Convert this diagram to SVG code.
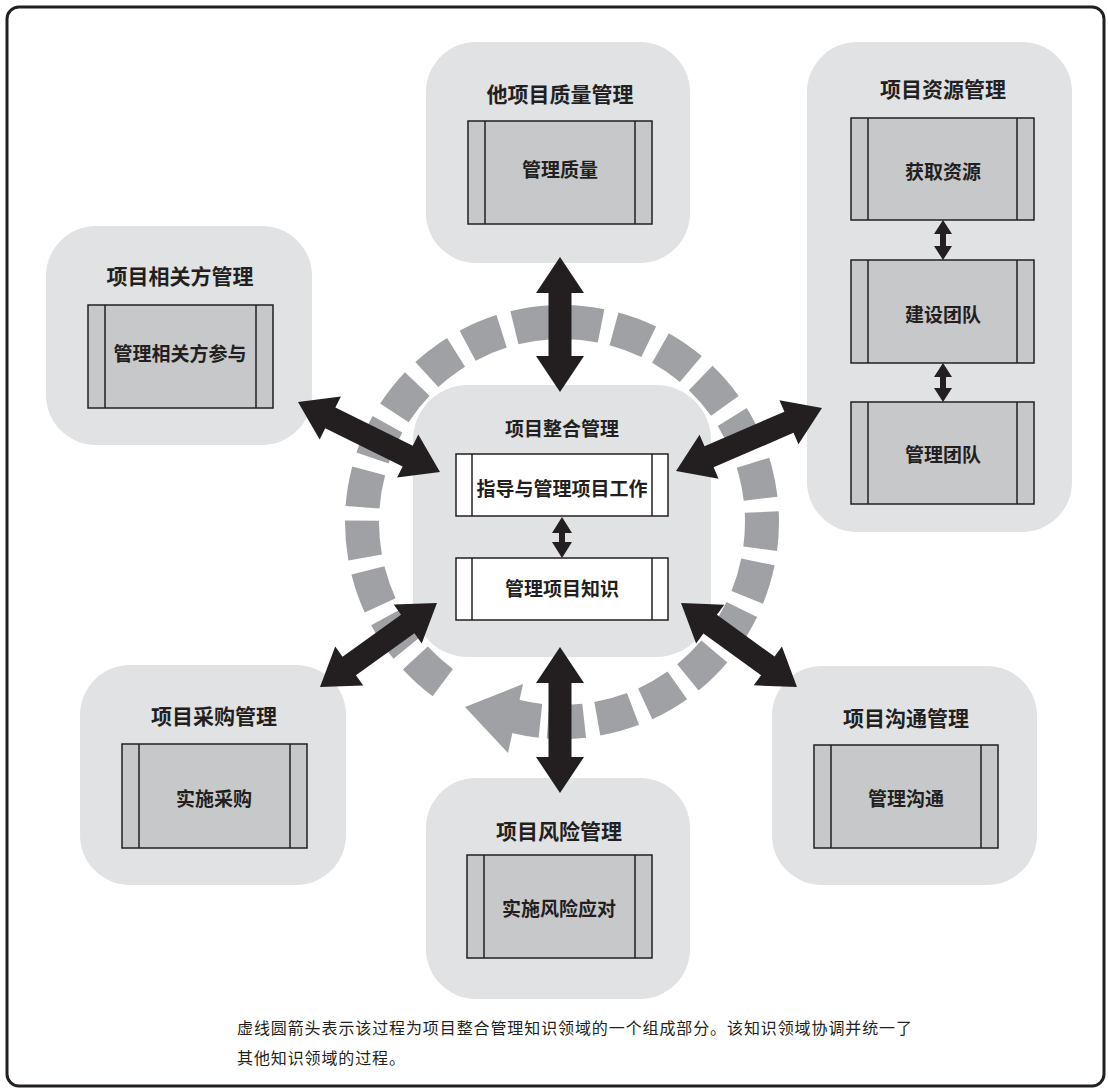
<svg xmlns="http://www.w3.org/2000/svg" width="1108" height="1091" viewBox="0 0 1108 1091">
<style>
.area{fill:#e1e2e4}
.proc{fill:#c7c8ca;stroke:#231f20;stroke-width:1.5}
.procw{fill:#ffffff;stroke:#231f20;stroke-width:1.5}
.bar{stroke:#231f20;stroke-width:1.5}
.t{font-family:"Noto Sans CJK SC","Noto Sans CJK TC",sans-serif;font-weight:700;fill:#231f20;text-anchor:middle;dominant-baseline:central}
.tt{font-size:21px}
.tl{font-size:19px}
.note{font-family:"Noto Sans CJK SC",sans-serif;font-size:16px;fill:#231f20}
.arr{fill:#231f20}
.dash{fill:none;stroke:#9fa1a4;stroke-width:34}
</style>
<rect x="0" y="0" width="1108" height="1091" fill="#ffffff"/>
<rect x="7" y="7" width="1097" height="1079" rx="12" fill="none" stroke="#231f20" stroke-width="3"/>

<g id="quality">
<rect class="area" x="426" y="42" width="264" height="221" rx="50"/>
<text class="t tt" x="560" y="93">他项目质量管理</text>
<rect class="proc" x="468" y="121" width="184" height="103"/>
<line class="bar" x1="485" y1="121" x2="485" y2="224"/>
<line class="bar" x1="635" y1="121" x2="635" y2="224"/>
<text class="t tl" x="560" y="168">管理质量</text>
</g>

<g id="stakeholder">
<rect class="area" x="46" y="226" width="266" height="219" rx="50"/>
<text class="t tt" x="180" y="275">项目相关方管理</text>
<rect class="proc" x="88" y="305" width="185" height="103"/>
<line class="bar" x1="105" y1="305" x2="105" y2="408"/>
<line class="bar" x1="256" y1="305" x2="256" y2="408"/>
<text class="t tl" x="180" y="352">管理相关方参与</text>
</g>

<g id="resource">
<rect class="area" x="807" y="42" width="265" height="490" rx="50"/>
<text class="t tt" x="943" y="88">项目资源管理</text>
<rect class="proc" x="851" y="118" width="183" height="102"/>
<line class="bar" x1="868" y1="118" x2="868" y2="220"/>
<line class="bar" x1="1017" y1="118" x2="1017" y2="220"/>
<text class="t tl" x="943" y="170">获取资源</text>
<rect class="proc" x="851" y="260" width="183" height="103"/>
<line class="bar" x1="868" y1="260" x2="868" y2="363"/>
<line class="bar" x1="1017" y1="260" x2="1017" y2="363"/>
<text class="t tl" x="943" y="313">建设团队</text>
<rect class="proc" x="851" y="402" width="183" height="102"/>
<line class="bar" x1="868" y1="402" x2="868" y2="504"/>
<line class="bar" x1="1017" y1="402" x2="1017" y2="504"/>
<text class="t tl" x="943" y="453">管理团队</text>
</g>

<g id="procurement">
<rect class="area" x="80" y="665" width="266" height="220" rx="50"/>
<text class="t tt" x="214" y="715">项目采购管理</text>
<rect class="proc" x="122" y="744" width="185" height="104"/>
<line class="bar" x1="139" y1="744" x2="139" y2="848"/>
<line class="bar" x1="290" y1="744" x2="290" y2="848"/>
<text class="t tl" x="214" y="797">实施采购</text>
</g>

<g id="risk">
<rect class="area" x="426" y="778" width="264" height="221" rx="50"/>
<text class="t tt" x="559" y="830">项目风险管理</text>
<rect class="proc" x="467" y="855" width="185" height="103"/>
<line class="bar" x1="484" y1="855" x2="484" y2="958"/>
<line class="bar" x1="635" y1="855" x2="635" y2="958"/>
<text class="t tl" x="559" y="907">实施风险应对</text>
</g>

<g id="communication">
<rect class="area" x="772" y="666" width="265" height="219" rx="50"/>
<text class="t tt" x="906" y="717">项目沟通管理</text>
<rect class="proc" x="814" y="745" width="184" height="103"/>
<line class="bar" x1="831" y1="745" x2="831" y2="848"/>
<line class="bar" x1="981" y1="745" x2="981" y2="848"/>
<text class="t tl" x="906" y="797">管理沟通</text>
</g>

<g id="cycle">
<path class="dash" d="M442.8,682.6 A200,200 0 1 1 548.0,721.5" stroke-dasharray="37 13.27"/>
<path d="M540.4,720.8 A200,200 0 0 1 513.6,716.1" fill="none" stroke="#9fa1a4" stroke-width="34"/>
<polygon points="523,684 508,753 465,707" fill="#9fa1a4"/>
</g>

<g id="integration">
<rect class="area" x="413" y="385" width="298" height="272" rx="55"/>
<text class="t tl" x="562" y="427">项目整合管理</text>
<rect class="procw" x="456" y="454" width="212" height="62"/>
<line class="bar" x1="472" y1="454" x2="472" y2="516"/>
<line class="bar" x1="652" y1="454" x2="652" y2="516"/>
<text class="t tl" x="562" y="487">指导与管理项目工作</text>
<rect class="procw" x="456" y="558" width="212" height="62"/>
<line class="bar" x1="472" y1="558" x2="472" y2="620"/>
<line class="bar" x1="652" y1="558" x2="652" y2="620"/>
<text class="t tl" x="562" y="587">管理项目知识</text>
</g>

<g id="connectors">
<path class="arr" transform="translate(560,257) rotate(90)" d="M0,0 L36,-24 L36,-11.5 L99,-11.5 L99,-24 L135,0 L99,24 L99,11.5 L36,11.5 L36,24 Z"/>
<path class="arr" transform="translate(560,647) rotate(90)" d="M0,0 L36,-24 L36,-11.5 L110,-11.5 L110,-24 L146,0 L110,24 L110,11.5 L36,11.5 L36,24 Z"/>
<path class="arr" transform="translate(298,402) rotate(26.24)" d="M0,0 L36,-24 L36,-11.5 L122.3,-11.5 L122.3,-24 L158.3,0 L122.3,24 L122.3,11.5 L36,11.5 L36,24 Z"/>
<path class="arr" transform="translate(822,408) rotate(156.66)" d="M0,0 L36,-24 L36,-11.5 L123,-11.5 L123,-24 L159,0 L123,24 L123,11.5 L36,11.5 L36,24 Z"/>
<path class="arr" transform="translate(320,687) rotate(-35.68)" d="M0,0 L36,-24 L36,-11.5 L108,-11.5 L108,-24 L144,0 L108,24 L108,11.5 L36,11.5 L36,24 Z"/>
<path class="arr" transform="translate(797,687) rotate(-144.09)" d="M0,0 L36,-24 L36,-11.5 L107.2,-11.5 L107.2,-24 L143.2,0 L107.2,24 L107.2,11.5 L36,11.5 L36,24 Z"/>
<path class="arr" d="M943,220 L952,234 L946,234 L946,246 L952,246 L943,260 L934,246 L940,246 L940,234 L934,234 Z"/>
<path class="arr" d="M943,363 L952,377 L946,377 L946,388 L952,388 L943,402 L934,388 L940,388 L940,377 L934,377 Z"/>
<path class="arr" d="M562,517 L572,533 L565,533 L565,542 L572,542 L562,558 L552,542 L559,542 L559,533 L552,533 Z"/>
</g>

<g id="note">
<text class="note" x="237" y="1034" textLength="675" lengthAdjust="spacing">虚线圆箭头表示该过程为项目整合管理知识领域的一个组成部分。该知识领域协调并统一了</text>
<text class="note" x="237" y="1064" textLength="168" lengthAdjust="spacing">其他知识领域的过程。</text>
</g>
</svg>
